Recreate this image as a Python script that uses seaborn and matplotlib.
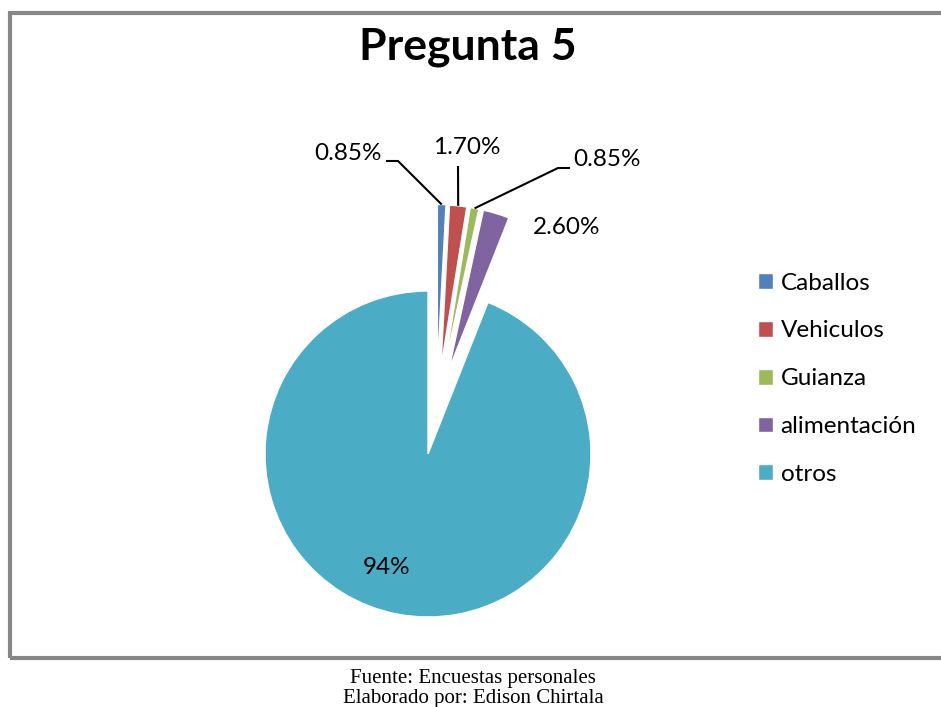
import numpy as np
import matplotlib
matplotlib.use("Agg")
import matplotlib.pyplot as plt
from matplotlib.patches import Rectangle
import seaborn as sns

categories = ["Caballos", "Vehiculos", "Guianza", "alimentación", "otros"]
values = [0.85, 1.70, 0.85, 2.60, 94]
value_labels = ["0.85%", "1.70%", "0.85%", "2.60%", "94%"]
colors = ["#4F81BD", "#C0504D", "#9BBB59", "#8064A2", "#4BACC6"]

sns.set_theme(style="white")
plt.rcParams["font.family"] = ["Lato", "DejaVu Sans"]
plt.rcParams["text.color"] = "black"

W, H = 941, 707
CX, CY, R = 428, 454, 163  # pie centre and radius in pixels
EXPLODE = 0.534
exploded = [True, True, True, True, False]


def px2data(px, py):
    return (px - CX) / R, (CY - py) / R


fig = plt.figure(figsize=(W / 100, H / 100), dpi=100)
ax = fig.add_axes([0, 0, 1, 1])

wedges, _ = ax.pie(values, colors=sns.color_palette(colors), startangle=90,
                   counterclock=False, radius=1,
                   wedgeprops=dict(edgecolor="white", linewidth=1.0))

# pull the small slices out, roughly towards the middle of their group
small = [w for w, e in zip(wedges, exploded) if e]
group_mid = (min(w.theta1 for w in small) + max(w.theta2 for w in small)) / 2
for w, e in zip(wedges, exploded):
    if e:
        own_mid = (w.theta1 + w.theta2) / 2
        a = np.deg2rad((own_mid + group_mid) / 2)
        w.set_center((EXPLODE * np.cos(a), EXPLODE * np.sin(a)))

ax.set_aspect("auto")
ax.set_xlim(-CX / R, (W - CX) / R)
ax.set_ylim(-(H - CY) / R, CY / R)
ax.axis("off")

# label text positions (pixels) and leader line elbows
label_pos = [(348, 153), (467, 148), (607, 160), (567, 227), (387, 567)]
leader = [[(386, 161), (398, 161)], [(458, 166)], [(570, 168), (558, 168)], None, None]

for i, w in enumerate(wedges):
    tx, ty = px2data(*label_pos[i])
    ax.text(tx, ty, value_labels[i], ha="center", va="center", fontsize=17.5, color="black")
    if leader[i] is not None:
        mid = np.deg2rad((w.theta1 + w.theta2) / 2)
        cx, cy = w.center
        pts = [px2data(*p) for p in leader[i]] + [(cx + np.cos(mid), cy + np.sin(mid))]
        xs, ys = zip(*pts)
        ax.plot(xs, ys, color="black", lw=1.5, solid_capstyle="butt")

leg = ax.legend(wedges, categories, loc="upper left",
                bbox_to_anchor=(748 / W, 1 - 263 / H), frameon=False,
                fontsize=17.5, handlelength=0.62, handleheight=0.62,
                handletextpad=0.32, labelspacing=1.10, borderaxespad=0,
                labelcolor="black")

fig.text(468 / W, 1 - 47 / H, "Pregunta 5", ha="center", va="center",
         fontsize=32, fontweight="bold", color="black")

# outer chart frame
fig.patches.append(Rectangle((9.5, H - 658), 1000, 645, transform=None,
                             fill=False, edgecolor="#878787", linewidth=3))

fig.text(473 / W, 1 - 678 / H, "Fuente: Encuestas personales", ha="center",
         va="center", fontsize=15, family="Liberation Serif", color="black")
fig.text(473 / W, 1 - 699 / H, "Elaborado por: Edison Chirtala", ha="center",
         va="center", fontsize=15, family="Liberation Serif", color="black")

fig.savefig("out.png", dpi=100)
